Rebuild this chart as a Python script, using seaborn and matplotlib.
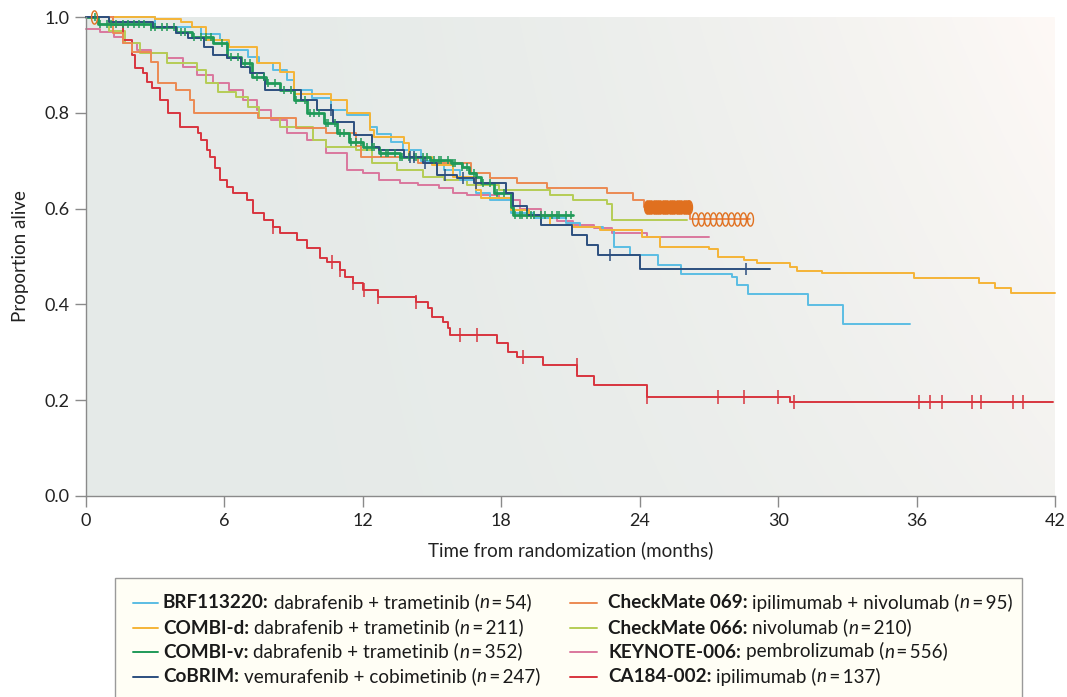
import numpy as np
import pandas as pd
import matplotlib
matplotlib.use("Agg")
import matplotlib.pyplot as plt
import seaborn as sns
from matplotlib.path import Path
from matplotlib.patches import Rectangle
from matplotlib.lines import Line2D
from matplotlib.text import Annotation

# ---------------- data ----------------
trials = ["BRF113220", "COMBI-d", "COMBI-v", "CoBRIM",
          "CheckMate 069", "CheckMate 066", "KEYNOTE-006", "CA184-002"]

t_brf = [0, 3.0, 5.0, 5.8, 6.1, 7.0, 7.5, 8.1, 8.7, 9.0, 9.8, 10.6, 11.3, 12.3, 12.6, 13.2,
         13.75, 14.5, 15.5, 16.2, 16.9, 17.5, 18.4, 19.4, 20.8, 21.4, 22.4, 22.9, 23.6, 24.8,
         25.8, 28.0, 28.2, 28.7, 31.3, 32.8, 35.7]
s_brf = [1.0, 0.98, 0.965, 0.952, 0.931, 0.917, 0.905, 0.89, 0.868, 0.848, 0.83, 0.806, 0.795,
         0.771, 0.755, 0.74, 0.722, 0.70, 0.68, 0.66, 0.632, 0.618, 0.59, 0.58, 0.57, 0.562,
         0.555, 0.52, 0.503, 0.482, 0.463, 0.457, 0.44, 0.422, 0.399, 0.359, 0.359]

t_cd = [0, 3.0, 4.1, 4.6, 5.2, 6.2, 7.4, 8.4, 9.0, 10.6, 11.3, 12.3, 12.5, 13.8, 14.0, 15.0,
        15.9, 16.9, 17.1, 18.4, 19.2, 20.1, 21.1, 22.3, 24.1, 24.9, 27.0, 27.4, 28.5, 29.1,
        30.5, 30.8, 31.9, 35.9, 38.7, 39.4, 40.1, 42.0]
s_cd = [1.0, 0.995, 0.99, 0.98, 0.952, 0.937, 0.904, 0.885, 0.84, 0.827, 0.80, 0.764, 0.75,
        0.737, 0.708, 0.69, 0.666, 0.639, 0.622, 0.597, 0.585, 0.566, 0.562, 0.555, 0.541,
        0.52, 0.516, 0.499, 0.493, 0.486, 0.478, 0.47, 0.466, 0.455, 0.445, 0.434, 0.424, 0.424]

t_cv = [0, 0.5, 2.8, 3.9, 4.6, 5.5, 6.1, 6.7, 7.2, 7.8, 8.4, 9.0, 9.6, 10.3, 10.9, 11.4, 12.0,
        12.7, 13.6, 14.9, 15.8, 16.3, 16.6, 16.9, 17.1, 17.7, 18.4, 18.5, 21.1]
s_cv = [1.0, 0.985, 0.979, 0.969, 0.958, 0.946, 0.917, 0.904, 0.875, 0.862, 0.848, 0.827, 0.80,
        0.779, 0.758, 0.739, 0.729, 0.716, 0.708, 0.701, 0.695, 0.687, 0.674, 0.666, 0.653,
        0.632, 0.603, 0.587, 0.587]

t_cob = [0, 1.0, 2.9, 3.9, 4.4, 5.1, 5.5, 6.1, 6.7, 7.1, 7.7, 7.75, 9.3, 10.0, 10.7, 11.6, 12.4,
         12.7, 13.8, 14.6, 15.2, 16.1, 16.8, 18.2, 18.5, 19.1, 19.7, 21.05, 21.7, 22.2, 24.0, 29.65]
s_cob = [1.0, 0.99, 0.979, 0.967, 0.956, 0.937, 0.92, 0.914, 0.896, 0.883, 0.868, 0.848, 0.827,
         0.806, 0.781, 0.754, 0.729, 0.722, 0.708, 0.695, 0.67, 0.664, 0.653, 0.632, 0.605, 0.587,
         0.566, 0.545, 0.524, 0.503, 0.474, 0.474]

t_cm69 = [0, 1.17, 1.6, 2.0, 2.8, 3.1, 3.9, 4.5, 4.7, 7.45, 9.1, 10.4, 11.7, 11.9, 14.4, 16.7,
          17.5, 18.7, 20.0, 22.6, 23.7, 24.2, 26.2, 28.8]
s_cm69 = [1.0, 0.967, 0.946, 0.927, 0.906, 0.862, 0.848, 0.827, 0.80, 0.79, 0.768, 0.757, 0.73,
          0.708, 0.695, 0.674, 0.664, 0.653, 0.643, 0.632, 0.618, 0.603, 0.578, 0.578]

t_cm66 = [0, 1.0, 1.7, 2.35, 3.5, 4.8, 5.2, 5.7, 6.5, 7.0, 7.5, 8.4, 9.85, 10.4, 11.7, 12.4, 13.5,
          14.6, 15.5, 16.5, 17.9, 20.1, 21.1, 22.6, 22.8, 26.05]
s_cm66 = [1.0, 0.97, 0.945, 0.925, 0.904, 0.89, 0.862, 0.844, 0.833, 0.812, 0.79, 0.77, 0.743,
          0.729, 0.722, 0.695, 0.68, 0.666, 0.66, 0.649, 0.639, 0.628, 0.618, 0.61, 0.576, 0.576]

t_kn = [0, 0.6, 1.2, 1.6, 2.2, 2.8, 3.5, 4.2, 4.8, 5.5, 6.2, 6.8, 7.4, 8.0, 8.7, 9.6, 10.4, 11.3,
        12.0, 12.7, 13.6, 14.4, 15.3, 15.9, 16.5, 17.9, 18.8, 19.7, 20.4, 21.1, 22.0, 22.8, 24.3, 27.0]
s_kn = [0.975, 0.969, 0.958, 0.946, 0.931, 0.925, 0.914, 0.896, 0.879, 0.862, 0.848, 0.827, 0.806,
        0.785, 0.758, 0.743, 0.716, 0.68, 0.674, 0.66, 0.653, 0.649, 0.643, 0.632, 0.628, 0.618,
        0.60, 0.587, 0.575, 0.566, 0.559, 0.549, 0.541, 0.541]

t_ca = [0, 1.18, 1.62, 1.98, 2.12, 2.49, 2.63, 2.85, 3.21, 3.57, 4.07, 4.86, 5.0, 5.23, 5.37, 5.6,
        5.81, 6.1, 6.38, 6.96, 7.25, 7.7, 8.1, 8.4, 9.13, 9.57, 10.14, 10.43, 11.0, 11.23, 11.59,
        12.02, 12.67, 14.3, 14.84, 14.98, 15.49, 15.7, 15.78, 17.8, 18.3, 18.67, 19.8, 21.3, 22.0,
        24.3, 30.5, 41.9]
s_ca = [1.0, 0.983, 0.952, 0.921, 0.894, 0.883, 0.864, 0.852, 0.827, 0.80, 0.77, 0.758, 0.743,
        0.722, 0.708, 0.685, 0.66, 0.645, 0.633, 0.618, 0.59, 0.576, 0.562, 0.549, 0.534, 0.518,
        0.497, 0.489, 0.472, 0.458, 0.444, 0.430, 0.416, 0.406, 0.392, 0.374, 0.364, 0.35, 0.336,
        0.319, 0.301, 0.291, 0.274, 0.25, 0.232, 0.207, 0.197, 0.197]

# censoring marks
cens_ca = [8.1, 10.65, 11.0, 11.59, 12.05, 12.67, 14.3, 16.2, 16.93, 18.95, 21.27, 24.3, 27.4,
           28.5, 30.0, 30.7, 36.1, 36.6, 37.1, 38.4, 38.8, 40.2, 40.6]
cens_cv = [0.4, 0.6, 0.9, 1.1, 1.3, 1.6, 1.8, 2.1, 2.3, 2.5, 2.8, 3.0, 3.3, 3.5, 3.8, 4.1, 4.3,
           4.7, 5.0, 5.2, 5.4, 5.9, 6.3, 6.6, 6.9, 7.1, 7.4, 7.7, 7.9, 8.2, 8.6, 8.9, 9.1, 9.5,
           9.7, 9.9, 10.1, 10.4, 10.5, 10.8, 11.0, 11.2, 11.5, 11.7, 11.9, 12.2, 12.4, 12.5,
           12.8, 13.0, 13.1, 13.4, 13.6, 13.7, 14.0, 14.2, 14.3, 14.6, 14.8, 15.1, 15.3, 15.4,
           15.7, 15.9, 16.0, 16.3, 16.5, 16.8, 17.2, 17.5, 17.8, 18.1, 18.6, 18.8, 18.9, 19.1,
           19.3, 19.4, 19.7, 19.9, 20.2, 20.4, 20.5, 20.8, 21.0]
cens_cob = [10.6, 14.05, 14.2, 14.7, 15.56, 16.35, 16.9, 22.7, 28.6]
cens_cm69_full = [24.3, 24.4, 24.5, 24.6, 24.7, 24.8, 24.9, 25.0, 25.1, 25.2, 25.3, 25.4, 25.5,
                  25.6, 25.7, 25.8, 25.9, 26.0, 26.1]
cens_cm69_open = [0.35, 26.13, 26.4, 26.65, 26.9, 27.16, 27.42, 27.68, 27.94, 28.2, 28.46, 28.78]

x_ticks = [0, 6, 12, 18, 24, 30, 36, 42]
y_ticks = [0.0, 0.2, 0.4, 0.6, 0.8, 1.0]

legend_bold = ["BRF113220:", "COMBI-d:", "COMBI-v:", "CoBRIM:",
               "CheckMate 069:", "CheckMate 066:", "KEYNOTE-006:", "CA184-002:"]
legend_drug = ["dabrafenib + trametinib", "dabrafenib + trametinib", "dabrafenib + trametinib",
               "vemurafenib + cobimetinib", "ipilimumab + nivolumab", "nivolumab",
               "pembrolizumab", "ipilimumab"]
legend_n = [54, 211, 352, 247, 95, 210, 556, 137]

colors = ["#5bbde3", "#f5b437", "#1f9a58", "#2c4f7f", "#ec8a52", "#b5cd55", "#da779d", "#d8353f"]
circ_color = "#e0701f"

# ---------------- build long table ----------------
series_t = [t_brf, t_cd, t_cv, t_cob, t_cm69, t_cm66, t_kn, t_ca]
series_s = [s_brf, s_cd, s_cv, s_cob, s_cm69, s_cm66, s_kn, s_ca]
rows = []
for name, tt, ss in zip(trials, series_t, series_s):
    for a, b in zip(tt, ss):
        rows.append((name, a, b))
df = pd.DataFrame(rows, columns=["trial", "time", "surv"])
pal = dict(zip(trials, colors))

def surv_at(tt, ss, c):
    tt = np.asarray(tt); ss = np.asarray(ss)
    idx = np.searchsorted(tt, np.asarray(c), side="right") - 1
    return ss[np.clip(idx, 0, len(ss) - 1)]

# ---------------- figure ----------------
sns.set_theme(style="ticks")
plt.rcParams["font.family"] = ["Lato", "DejaVu Sans"]

W, H = 1067, 697
fig = plt.figure(figsize=(W / 100, H / 100), dpi=100)
fig.patch.set_facecolor("white")
ax = fig.add_axes([86 / W, 1 - 496 / H, 969 / W, 479 / H])

# background gradient
X, Y = np.meshgrid(np.linspace(0, 1, 400), np.linspace(0, 1, 160))
f = np.clip(X, 0, 1) ** 2.0 * (0.55 + 0.45 * Y)
c0 = np.array([229, 234, 232]) / 255
c1 = np.array([254, 249, 246]) / 255
img = c0 + (c1 - c0) * f[..., None]
ax.imshow(img, extent=[0, 42, 0, 1], origin="lower", aspect="auto", zorder=0,
          interpolation="bilinear")

draw_order = ["KEYNOTE-006", "CheckMate 066", "BRF113220", "COMBI-d", "CA184-002",
              "CheckMate 069", "COMBI-v", "CoBRIM"]
sns.lineplot(data=df, x="time", y="surv", hue="trial", hue_order=draw_order, palette=pal,
             estimator=None, sort=False, drawstyle="steps-post", linewidth=1.4,
             legend=False, ax=ax)
for ln in ax.lines:
    ln.set_clip_on(False)
    ln.set_zorder(3)
    if ln.get_color() == pal["COMBI-v"]:
        ln.set_linewidth(2.0)

tick_kw = dict(ls="none", marker="|", mew=1.1, zorder=4, clip_on=False)
ax.plot(cens_ca, surv_at(t_ca, s_ca, cens_ca), color=pal["CA184-002"], ms=10, **tick_kw)
ax.plot(cens_cv, surv_at(t_cv, s_cv, cens_cv), color=pal["COMBI-v"], ms=6, **tick_kw)
ax.plot(cens_cob, surv_at(t_cob, s_cob, cens_cob), color=pal["CoBRIM"], ms=8, **tick_kw)

th = np.linspace(0, 2 * np.pi, 48)
ell = Path(np.c_[0.45 * np.cos(th), np.sin(th)], closed=True)
ax.plot(cens_cm69_full, surv_at(t_cm69, s_cm69, cens_cm69_full), ls="none", marker=ell,
        ms=9.5, mfc=circ_color, mec=circ_color, mew=1.0, zorder=5, clip_on=False)
ax.plot(cens_cm69_open, surv_at(t_cm69, s_cm69, cens_cm69_open), ls="none", marker=ell,
        ms=9.5, mfc="none", mec=circ_color, mew=1.0, zorder=5, clip_on=False)

ax.set_xlim(0, 42)
ax.set_ylim(0, 1.0)
ax.set_xticks(x_ticks)
ax.set_xticklabels([str(v) for v in x_ticks])
ax.set_yticks(y_ticks)
ax.set_yticklabels([f"{v:.1f}" for v in y_ticks])
for side in ["top", "right"]:
    ax.spines[side].set_visible(False)
for side in ["left", "bottom"]:
    ax.spines[side].set_color("#8a8a8a")
    ax.spines[side].set_linewidth(1.0)
    ax.spines[side].set_zorder(6)
ax.tick_params(axis="both", colors="#8a8a8a", length=8, width=1.0, labelsize=13,
               labelcolor="#222222", pad=4)
ax.set_xlabel("Time from randomization (months)", fontsize=13.5, color="#222222")
ax.set_ylabel("Proportion alive", fontsize=13.5, color="#222222")
ax.xaxis.set_label_coords(0.5, -(541 - 496) / 479)
ax.yaxis.set_label_coords(-(86 - 29) / 969, 0.5)
ax.grid(False)

# ---------------- legend box ----------------
box = Rectangle((115 / W, 1 - 702 / H), (1022 - 115) / W, (702 - 578) / H,
                transform=fig.transFigure, facecolor="#fffef5", edgecolor="#9a9a9a",
                linewidth=1.0, zorder=1)
fig.add_artist(box)

row_y = [603, 628, 652, 677]
cols = [(133, 158, 163), (570, 597, 608)]
fs = 13.6
txt_col = "#1a1a1a"
for i, name in enumerate(trials):
    c = i // 4
    r = i % 4
    x0, x1, xt = cols[c]
    yc = 1 - row_y[r] / H
    fig.add_artist(Line2D([x0 / W, x1 / W], [yc, yc], transform=fig.transFigure,
                          color=pal[name], lw=1.4, zorder=3))
    t1 = fig.text(xt / W, yc, legend_bold[i], fontsize=fs, fontweight="bold",
                  color=txt_col, va="center", zorder=3)
    t2 = Annotation(legend_drug[i] + " (", xy=(1, 0), xycoords=t1, xytext=(3.5, 0),
                    textcoords="offset points", va="bottom", ha="left", fontsize=fs,
                    color=txt_col, zorder=3)
    fig.add_artist(t2)
    t3 = Annotation("n", xy=(1, 0), xycoords=t2, va="bottom", ha="left", fontsize=fs,
                    fontstyle="italic", color=txt_col, zorder=3)
    fig.add_artist(t3)
    t4 = Annotation("\u2009=\u2009" + str(legend_n[i]) + ")", xy=(1, 0), xycoords=t3,
                    va="bottom", ha="left", fontsize=fs, color=txt_col, zorder=3)
    fig.add_artist(t4)

fig.savefig("out.png", dpi=100)
